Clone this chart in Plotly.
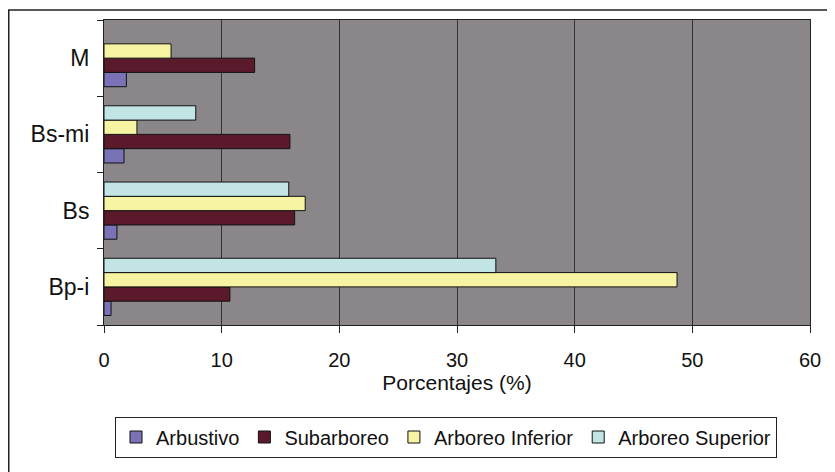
import plotly.graph_objects as go

# categories, bottom to top
zonas = ["Bp-i", "Bs", "Bs-mi", "M"]

arbustivo = [0.6, 1.1, 1.7, 1.9]
subarboreo = [10.7, 16.2, 15.8, 12.8]
arboreo_inferior = [48.7, 17.1, 2.8, 5.7]
arboreo_superior = [33.3, 15.7, 7.8, None]  # no bar for M

x_ticks = [0, 10, 20, 30, 40, 50, 60]

series = [
    ("Arbustivo", arbustivo, "#7a72b6"),
    ("Subarboreo", subarboreo, "#5a1a2c"),
    ("Arboreo Inferior", arboreo_inferior, "#f6f3a2"),
    ("Arboreo Superior", arboreo_superior, "#c2e4e4"),
]

fig = go.Figure()
for name, vals, color in series:
    fig.add_trace(go.Bar(
        y=zonas, x=vals, name=name, orientation="h",
        marker=dict(color=color, line=dict(color="#111111", width=1)),
    ))

fig.update_layout(
    width=835, height=472,
    barmode="group", bargap=0.25, bargroupgap=0,
    paper_bgcolor="white", plot_bgcolor="#8a868a",
    margin=dict(l=96, r=33, t=12, b=155),
    font=dict(family="Liberation Sans, Arial, sans-serif", color="#111111", size=20),
    showlegend=True,
    legend=dict(
        orientation="h", x=0.0156, y=-0.3, xanchor="left", yanchor="top",
        bordercolor="#222222", borderwidth=1, bgcolor="white",
        font=dict(size=20), traceorder="normal", itemwidth=30,
        tracegroupgap=0,
    ),
)

fig.update_xaxes(
    range=[0, 60], tickvals=x_ticks, showgrid=True, gridcolor="#333333", gridwidth=1,
    showline=True, linecolor="#222222", mirror=True, ticks="outside", ticklen=7,
    tickcolor="#222222", ticklabelstandoff=10,
    tickfont=dict(size=20), zeroline=False, automargin=False,
    title=dict(text="Porcentajes (%)", font=dict(size=21), standoff=5),
)
fig.update_yaxes(
    categoryorder="array", categoryarray=zonas, automargin=False,
    showline=True, linecolor="#222222", mirror=True, ticks="outside", ticklen=6,
    tickcolor="#222222", tickson="boundaries", ticklabelstandoff=9,
    tickfont=dict(size=23), showgrid=False,
)

# outer chart frame (top and left edges visible in the scan)
fig.add_shape(type="rect", xref="paper", yref="paper",
              x0=-0.1349, y0=-0.7, x1=1.1, y1=1.0328,
              line=dict(color="#222222", width=1.5), layer="below")

fig.write_html("out.html")
